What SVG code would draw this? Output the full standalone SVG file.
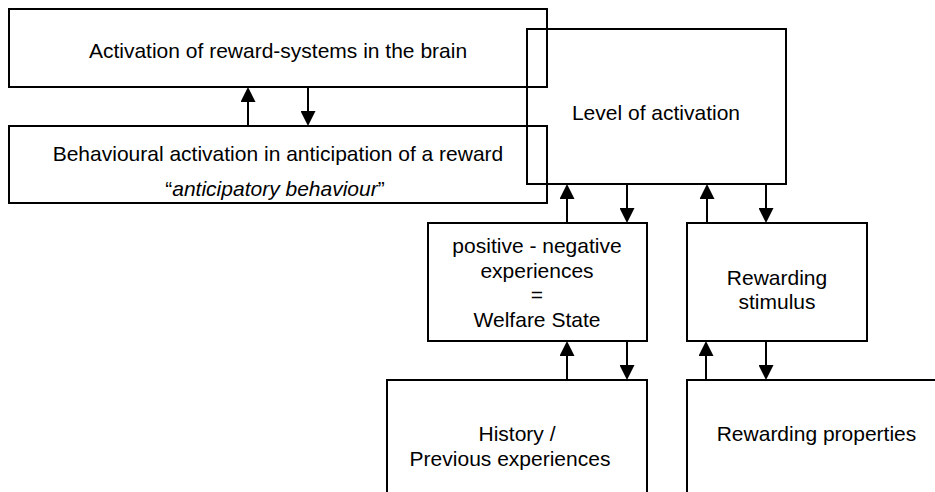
<svg xmlns="http://www.w3.org/2000/svg" width="935" height="492" viewBox="0 0 935 492">
<style>
.box{fill:none;stroke:#000;stroke-width:2}
.t{font-family:"Liberation Sans",Arial,sans-serif;font-size:21px;fill:#000;text-anchor:middle}
.c{fill:none;stroke:#000;stroke-width:2;marker-end:url(#ah)}
</style>
<defs>
<marker id="ah" viewBox="0 0 15 15" refX="0" refY="7.5" markerWidth="15" markerHeight="15" markerUnits="userSpaceOnUse" orient="auto"><path d="M0,0 L15,7.5 L0,15 z" fill="#000"/></marker>
<clipPath id="clipB"><rect x="9" y="126" width="538" height="75"/></clipPath>
</defs>
<rect width="935" height="492" fill="#fff"/>
<g id="brain">
<rect class="box" x="9" y="9" width="538" height="78"/>
<text class="t" x="278" y="58">Activation of reward-systems in the brain</text>
</g>
<g id="behaviour">
<rect class="box" x="9" y="126" width="538" height="77"/>
<text class="t" x="278" y="161">Behavioural activation in anticipation of a reward</text>
<text class="t" x="275" y="196" clip-path="url(#clipB)">“<tspan font-style="italic">anticipatory behaviour</tspan>”</text>
</g>
<g id="level">
<rect class="box" x="527" y="29" width="259" height="155"/>
<text class="t" x="656" y="120">Level of activation</text>
</g>
<g id="welfare">
<rect class="box" x="428" y="223" width="219" height="118"/>
<text class="t" x="537" y="253">positive - negative</text>
<text class="t" x="537" y="277.5">experiences</text>
<text class="t" x="537" y="302">=</text>
<text class="t" x="537" y="327">Welfare State</text>
</g>
<g id="stimulus">
<rect class="box" x="687" y="223" width="180" height="118"/>
<text class="t" x="777" y="285">Rewarding</text>
<text class="t" x="777" y="309">stimulus</text>
</g>
<g id="history">
<rect class="box" x="387" y="380" width="260" height="130"/>
<text class="t" x="517" y="441">History /</text>
<text class="t" x="510" y="465.5">Previous experiences</text>
</g>
<g id="properties">
<rect class="box" x="687" y="380" width="270" height="130"/>
<text class="t" x="816.5" y="441">Rewarding properties</text>
</g>
<g id="connectors">
<path class="c" d="M248,126 V102"/>
<path class="c" d="M308,87 V111"/>
<path class="c" d="M567,223 V199"/>
<path class="c" d="M627,184 V208"/>
<path class="c" d="M707,223 V199"/>
<path class="c" d="M766,184 V208"/>
<path class="c" d="M567,380 V356"/>
<path class="c" d="M627,341 V365"/>
<path class="c" d="M706,380 V356"/>
<path class="c" d="M766,341 V365"/>
</g>
</svg>
